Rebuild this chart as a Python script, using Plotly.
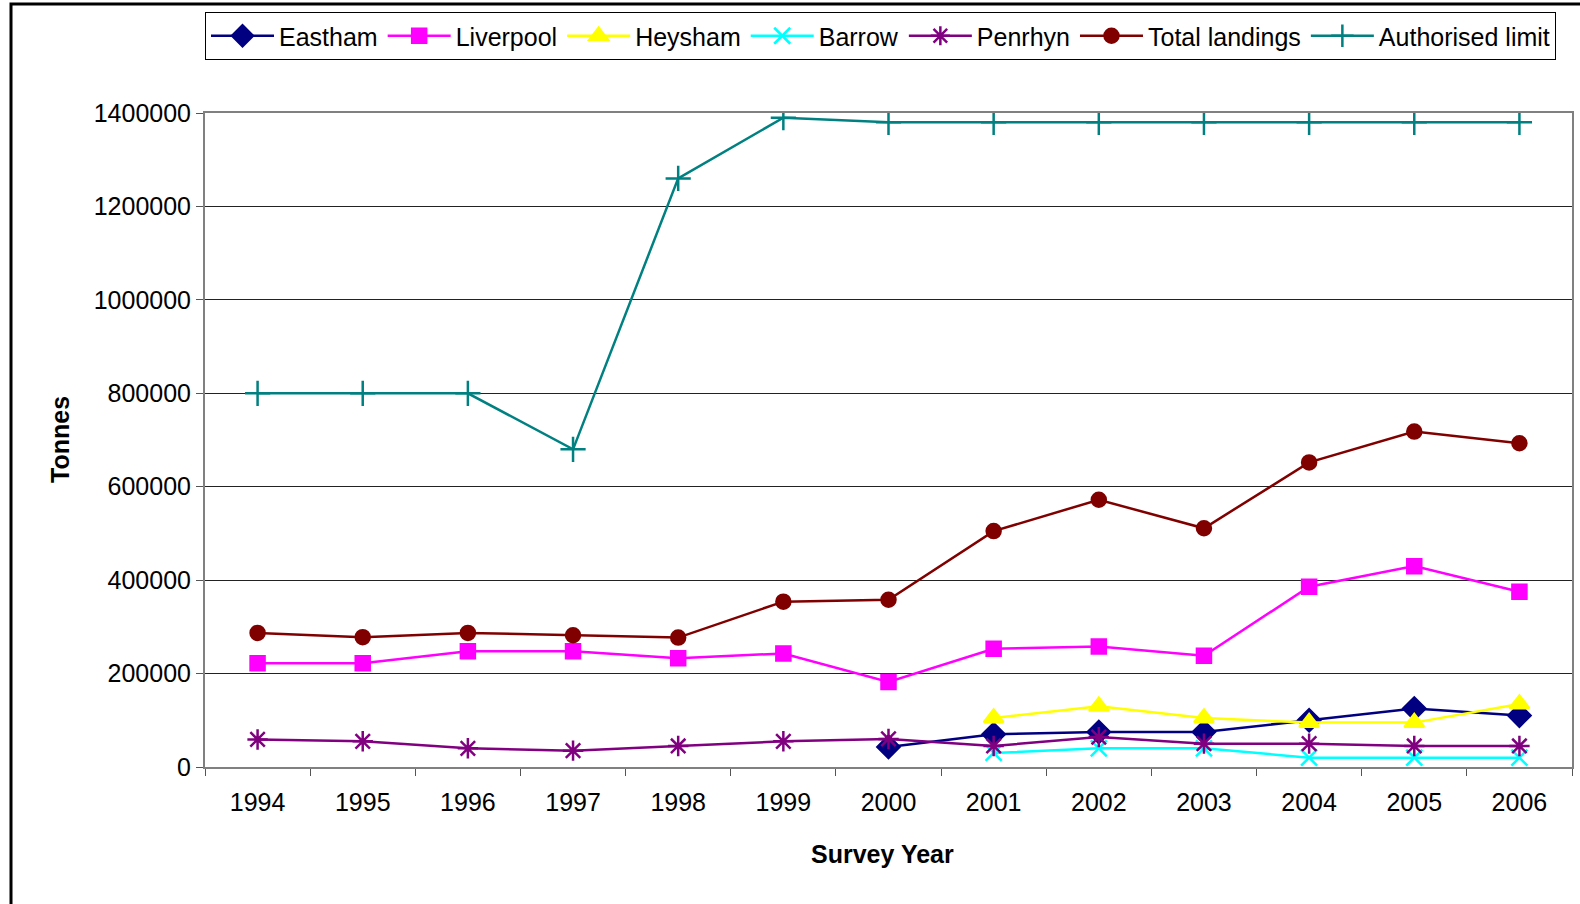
import plotly.graph_objects as go

years = ["1994", "1995", "1996", "1997", "1998", "1999", "2000",
         "2001", "2002", "2003", "2004", "2005", "2006"]

eastham = [None, None, None, None, None, None, 43000,
           70000, 75000, 75000, 100000, 125000, 110000]
liverpool = [222000, 222000, 248000, 248000, 233000, 243000, 182000,
             253000, 258000, 238000, 386000, 430000, 375000]
heysham = [None, None, None, None, None, None, None,
           105000, 130000, 105000, 95000, 95000, 135000]
barrow = [None, None, None, None, None, None, None,
          30000, 40000, 40000, 20000, 20000, 20000]
penrhyn = [59000, 55000, 40000, 35000, 45000, 55000, 60000,
           45000, 64000, 50000, 50000, 45000, 45000]
total_landings = [287000, 278000, 287000, 282000, 277000, 354000, 358000,
                  505000, 572000, 511000, 652000, 718000, 693000]
authorised_limit = [800000, 800000, 800000, 680000, 1260000, 1390000, 1380000,
                    1380000, 1380000, 1380000, 1380000, 1380000, 1380000]

y_ticks = [0, 200000, 400000, 600000, 800000, 1000000, 1200000, 1400000]

series = [
    ("Eastham", eastham, "#000080", "diamond", 17),
    ("Liverpool", liverpool, "#FF00FF", "square", 14),
    ("Heysham", heysham, "#FFFF00", "triangle-up", 17),
    ("Barrow", barrow, "#00FFFF", "x-thin-open", 16),
    ("Penrhyn", penrhyn, "#800080", "asterisk-open", 17),
    ("Total landings", total_landings, "#800000", "circle", 14),
    ("Authorised limit", authorised_limit, "#008080", "cross-thin-open", 18),
]

fig = go.Figure()
for name, vals, color, sym, size in series:
    fig.add_trace(go.Scatter(
        x=years, y=vals, name=name, mode="lines+markers",
        line=dict(color=color, width=2.5),
        marker=dict(symbol=sym, size=size, color=color,
                    line=dict(color=color, width=2.5)),
        connectgaps=False,
    ))

W, H = 1580, 904
L, R, T, B = 205, 8, 113, 137
pw, ph = W - L - R, H - T - B

def px(x):
    return (x - L) / pw

def py(y):
    return 1 - (y - T) / ph

font = "Liberation Sans, Arial, sans-serif"

fig.update_layout(
    width=W, height=H,
    margin=dict(l=L, r=R, t=T, b=B, autoexpand=False),
    paper_bgcolor="white", plot_bgcolor="white",
    font=dict(family=font, size=25, color="black"),
    showlegend=True,
    legend=dict(
        orientation="h", xref="container", yref="container",
        x=205 / W, y=1 - 12 / H, xanchor="left", yanchor="top",
        bordercolor="black", borderwidth=1, bgcolor="white",
        font=dict(size=25), itemwidth=63, tracegroupgap=0,
    ),
    xaxis=dict(
        type="category", range=[-0.5, 12.5], automargin=False,
        showline=True, linecolor="#808080", linewidth=2, mirror=True,
        ticks="outside", tickson="boundaries", ticklen=7, tickcolor="#555",
        tickwidth=1, showgrid=False, tickfont=dict(size=25),
        ticklabelstandoff=12,
    ),
    yaxis=dict(
        range=[0, 1400000], tickvals=y_ticks, tickformat="d", automargin=False,
        showline=True, linecolor="#808080", linewidth=2, mirror=True,
        ticks="outside", ticklen=7, tickcolor="#555", tickwidth=1,
        showgrid=True, gridcolor="#222", gridwidth=1,
        zeroline=False, tickfont=dict(size=25), ticklabelstandoff=0,
    ),
    annotations=[
        dict(text="<b>Survey Year</b>", xref="paper", yref="paper",
             x=px(882), y=py(854), xanchor="center", yanchor="middle",
             showarrow=False, font=dict(size=25)),
        dict(text="<b>Tonnes</b>", xref="paper", yref="paper",
             x=px(60), y=py(440), xanchor="center", yanchor="middle",
             textangle=-90, showarrow=False, font=dict(size=25)),
    ],
    shapes=[
        dict(type="path", xref="paper", yref="paper",
             path=f"M {px(11)} {py(910)} L {px(11)} {py(4)} L {px(1590)} {py(4)}",
             line=dict(color="black", width=3)),
    ],
)

fig.write_html("out.html", config={"displayModeBar": False},
               post_script="document.body.style.margin='0';document.body.style.overflow='hidden';")
